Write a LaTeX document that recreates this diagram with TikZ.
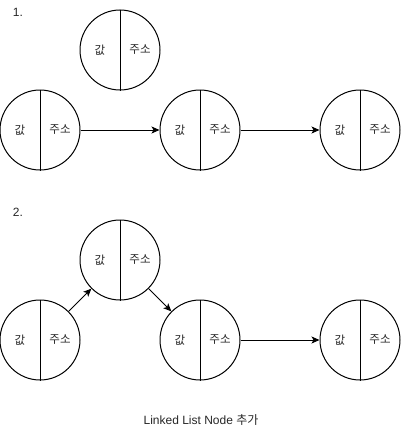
\documentclass[tikz,border=0pt]{standalone}
\usepackage{fontspec}
\setmainfont{Liberation Sans}
\newfontfamily\kr{Noto Sans CJK KR}
\usetikzlibrary{arrows.meta}
\begin{document}
\begin{tikzpicture}[x=1pt,y=-1pt,
  llnode/.style={circle,draw,line width=1pt,minimum size=80pt,inner sep=0pt},
  lbl/.style={font=\kr\fontsize{11.5}{13}\selectfont},
  conn/.style={line width=1pt,-{Stealth[length=8pt,width=7pt,inset=2pt]}},
  every node/.style={text=black!85}]
\useasboundingbox (0,0) rectangle (401,431);
\newcommand{\llnode}[3]{%
  \node[llnode] (#1) at (#2,#3) {};
  \draw[line width=1pt] (#1.north) -- (#1.south);
  \node[lbl] (#1v) at ([xshift=-20pt]#1.center) {값};
  \node[lbl] (#1a) at ([xshift=20pt]#1.center) {주소};
}
\node[font=\fontsize{12}{14}\selectfont] (t1) at (18,12) {1.};
\llnode{a}{120}{50}
\llnode{b}{40}{130}
\llnode{c}{200}{130}
\llnode{d}{360}{130}
\draw[conn] (b.east) -- (c.west);
\draw[conn] (c.east) -- (d.west);
\node[font=\fontsize{12}{14}\selectfont] (t2) at (18,212) {2.};
\llnode{e}{120}{260}
\llnode{f}{40}{340}
\llnode{g}{200}{340}
\llnode{h}{360}{340}
\draw[conn] (f.45) -- (e.225);
\draw[conn] (e.-45) -- (g.135);
\draw[conn] (g.east) -- (h.west);
\node[font=\fontsize{12}{14}\selectfont] (cap) at (201,420) {Linked List Node {\kr 추가}};
\end{tikzpicture}
\end{document}
